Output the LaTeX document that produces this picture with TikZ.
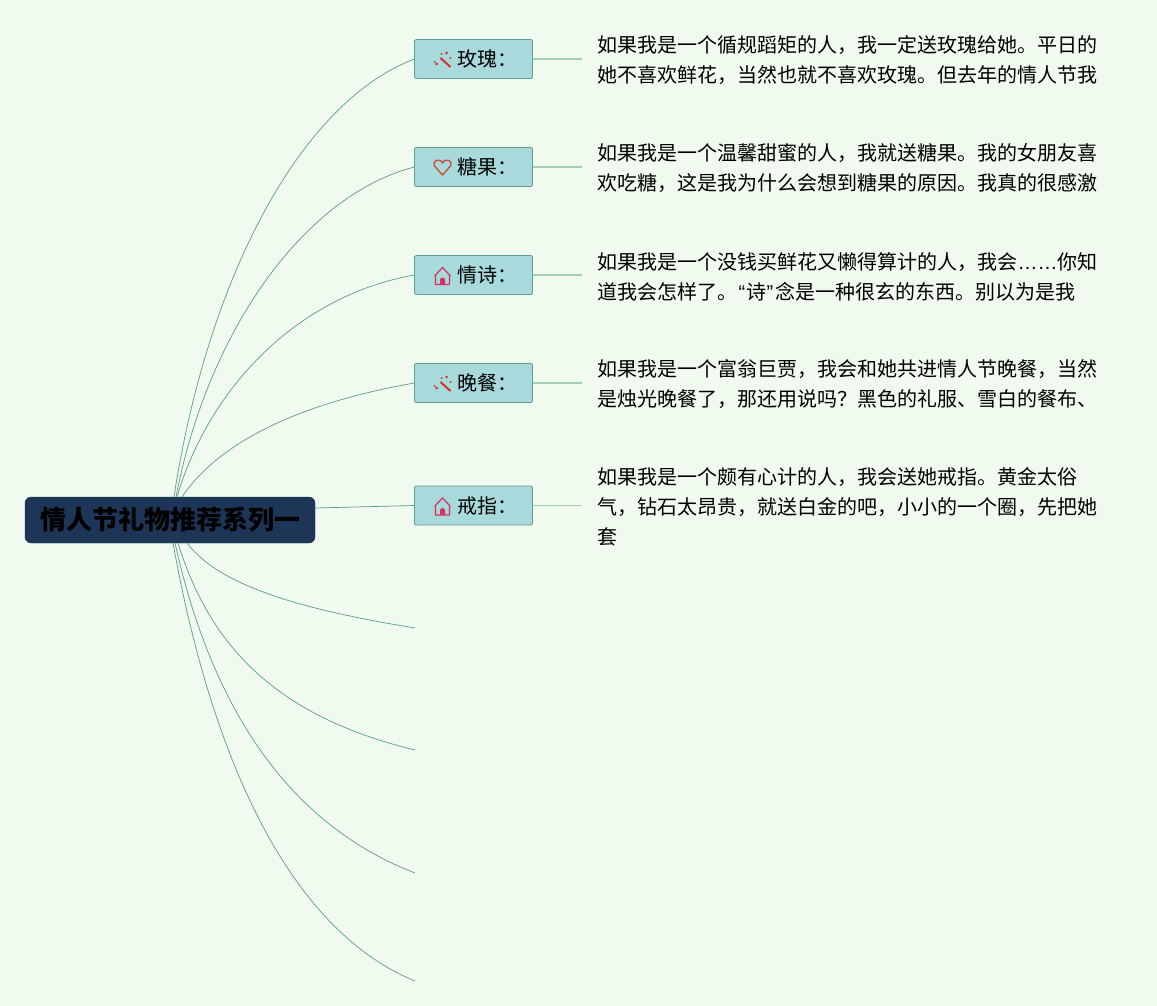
\documentclass[tikz,border=0pt]{standalone}
\usepackage{fontspec}
\setmainfont{Noto Sans CJK SC}
\newfontfamily\latinpart{Liberation Sans}
\usetikzlibrary{positioning}
\definecolor{pagebg}{HTML}{F0FAEE}
\definecolor{hubfill}{HTML}{1D3557}
\definecolor{topicfill}{HTML}{A8DADC}
\definecolor{topicline}{HTML}{5F9E94}
\definecolor{curveline}{HTML}{5C9E84}
\definecolor{stubline}{HTML}{A3CDB5}
\definecolor{wandred}{HTML}{D0352B}
\definecolor{heartred}{HTML}{C8503F}
\definecolor{homered}{HTML}{D6305F}
\newcommand{\topiclabel}[1]{\hspace*{28pt}\raisebox{-1pt}{#1}}
\tikzset{
    hub/.style={draw=hubfill, fill=hubfill, rounded corners=6pt, minimum width=290pt, minimum height=46pt, inner sep=0pt, outer sep=0pt, font=\fontsize{26pt}{30pt}\bfseries},
    topic/.style={draw=topicline, fill=topicfill, rounded corners=2pt, line width=0.9pt, minimum width=118pt, minimum height=39pt, inner sep=0pt, outer sep=0pt, font=\fontsize{20pt}{24pt}\selectfont},
    note/.style={anchor=west, text width=510pt, align=left, inner sep=0pt, yshift=-1.5pt, font=\fontsize{20pt}{30pt}\selectfont},
    curve/.style={draw=curveline, line width=0.7pt},
    stub/.style={draw=stubline, line width=1.4pt},
    wandicon/.pic={
        \draw[wandred, line width=2pt] (-2,-1) -- (8,8);
        \fill[wandred] (-6,5) circle (1.5pt) (4,-6) circle (1.5pt) (8,-1) circle (1.1pt) (-1,-5) circle (1pt) (-8,3) circle (1pt);
    },
    hearticon/.pic={
        \draw[heartred, line width=1.4pt, line join=round] (0,8) -- (-8,-1) .. controls (-11,-6) and (-3,-10) .. (0,-4) .. controls (3,-10) and (11,-6) .. (8,-1) -- cycle;
    },
    homeicon/.pic={
        \draw[homered, line width=1.2pt, line join=round] (-8,1) -- (0,-7.5) -- (8,1) (-7,0) -- (-7,9.5) -- (7,9.5) -- (7,0);
        \fill[homered] (-2.5,9.5) -- (-2.5,5) arc (180:0:2.5pt) -- (2.5,9.5) -- cycle;
    }
}
\begin{document}
\begin{tikzpicture}[x=1pt,y=-1pt]
    \fill[pagebg] (0,0) rectangle (1157,1006);
    \useasboundingbox (0,0) rectangle (1157,1006);
    \node[hub] (root) at (170,520) {\raisebox{-1.5pt}{情人节礼物推荐系列一}};
    \node[topic] (rose) at (473.5,59) {\topiclabel{玫瑰：}};
    \node[topic,below=69pt of rose] (candy) {\topiclabel{糖果：}};
    \node[topic,below=69pt of candy] (poem) {\topiclabel{情诗：}};
    \node[topic,below=69pt of poem] (dinner) {\topiclabel{晚餐：}};
    \node[topic,below=83.5pt of dinner] (ring) {\topiclabel{戒指：}};
    \pic at ([xshift=-31pt]rose.center) {wandicon};
    \pic at ([xshift=-31pt]candy.center) {hearticon};
    \pic at ([xshift=-31pt]poem.center) {homeicon};
    \pic at ([xshift=-31pt]dinner.center) {wandicon};
    \pic at ([xshift=-31pt]ring.center) {homeicon};
    \coordinate[right=49pt of rose] (roseend);
    \coordinate[right=49pt of candy] (candyend);
    \coordinate[right=49pt of poem] (poemend);
    \coordinate[right=49pt of dinner] (dinnerend);
    \coordinate[right=49pt of ring] (ringend);
    \node[note,right=16pt of roseend] (rosenote) {如果我是一个循规蹈矩的人，我一定送玫瑰给她。平日的\\她不喜欢鲜花，当然也就不喜欢玫瑰。但去年的情人节我};
    \node[note,right=16pt of candyend] (candynote) {如果我是一个温馨甜蜜的人，我就送糖果。我的女朋友喜\\欢吃糖，这是我为什么会想到糖果的原因。我真的很感激};
    \node[note,right=16pt of poemend] (poemnote) {如果我是一个没钱买鲜花又懒得算计的人，我会{\latinpart ……}你知\\道我会怎样了。\hspace{1pt}{\latinpart “}\hspace{1.3pt}诗{\latinpart ”}\hspace{2.3pt}念是一种很玄的东西。别以为是我};
    \node[note,right=16pt of dinnerend] (dinnernote) {如果我是一个富翁巨贾，我会和她共进情人节晚餐，当然\\是烛光晚餐了，那还用说吗？黑色的礼服、雪白的餐布、};
    \node[note,right=16pt of ringend] (ringnote) {如果我是一个颇有心计的人，我会送她戒指。黄金太俗\\气，钻石太昂贵，就送白金的吧，小小的一个圈，先把她\\套};
    \coordinate (low1) at (415,628);
    \coordinate (low2) at (415,750);
    \coordinate (low3) at (415,873);
    \coordinate (low4) at (415,981);
    \draw[stub] (rose) -- (roseend);
    \draw[stub] (candy) -- (candyend);
    \draw[stub] (poem) -- (poemend);
    \draw[stub] (dinner) -- (dinnerend);
    \draw[stub] (ring) -- (ringend);
    \draw[curve] ([xshift=4pt]root.north) .. controls (207,280) and (300,102) .. (rose.west);
    \draw[curve] ([xshift=6pt]root.north) .. controls (208,330) and (305,195) .. (candy.west);
    \draw[curve] ([xshift=7pt]root.north) .. controls (210,385) and (300,295) .. (poem.west);
    \draw[curve] ([xshift=12pt]root.north) .. controls (220,440) and (305,402) .. (dinner.west);
    \draw[curve] ([yshift=12pt]root.east) -- (ring.west);
    \draw[curve] ([xshift=17pt]root.south) .. controls (222,590) and (318,612) .. (low1);
    \draw[curve] ([xshift=8pt]root.south) .. controls (208,640) and (270,715) .. (low2);
    \draw[curve] ([xshift=5pt]root.south) .. controls (210,700) and (283,822) .. (low3);
    \draw[curve] ([xshift=3pt]root.south) .. controls (212,760) and (290,930) .. (low4);
\end{tikzpicture}
\end{document}
